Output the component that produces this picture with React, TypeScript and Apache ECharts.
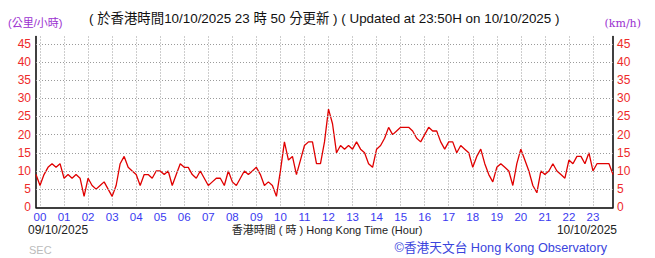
import React, { useEffect, useRef } from "react";
import * as echarts from "echarts";

// 10-minute mean wind speed (km/h), 09/10/2025 23:50 -> 10/10/2025 23:50
const speedPart1 = [9, 6, 9, 11, 12, 11, 12, 8, 9, 8, 9, 8, 3, 8, 6, 5, 6, 7, 5, 3, 6, 12, 14, 11, 10, 9, 6, 9, 9, 8, 10, 10, 9, 10, 6, 9, 12, 11, 11, 9, 8, 10, 8, 6, 7, 8, 8];
const speedPart2 = [6, 10, 7, 6, 8, 10, 9, 10, 11, 9, 6, 7, 6, 3, 10, 18, 13, 14, 9, 13, 17, 18, 18, 12, 12, 18, 27, 23, 15, 17, 16, 17, 16, 18, 16, 15, 12, 11, 16, 17, 19, 22, 20, 21, 22, 22, 22, 21, 19, 18];
const speedPart3 = [20, 22, 21, 21, 18, 16, 18, 18, 15, 17, 16, 15, 11, 14, 16, 12, 9, 7, 11, 12, 11, 10, 6, 12, 16, 13, 10, 6, 4, 10, 9, 10, 12, 10, 9, 8, 13, 12, 14, 14, 12, 15, 10, 12, 12, 12, 12, 9];
const speeds = [...speedPart1, ...speedPart2, ...speedPart3];

const hourLabels = ["00", "01", "02", "03", "04", "05", "06", "07", "08", "09", "10", "11", "12", "13", "14", "15", "16", "17", "18", "19", "20", "21", "22", "23"];
const minuteMarks = ["00", "10", "20", "30", "40", "50"];
const categories: string[] = ["23:50"];
hourLabels.forEach((h) => minuteMarks.forEach((m) => categories.push(h + ":" + m)));

const yTicks = [5, 10, 15, 20, 25, 30, 35, 40, 45];

const RED = "#ee2a2a";
const BLUE = "#3a3af0";
const PURPLE = "#9b30d0";
const GRID = "#9a9a9a";
const FONT = "'Liberation Sans', 'Noto Sans CJK TC', sans-serif";

export default function App() {
  const ref = useRef<HTMLDivElement>(null);
  useEffect(() => {
    if (!ref.current) return;
    const chart = echarts.init(ref.current, null, { renderer: "svg" });
    const isHour = (i: number) => i >= 1 && (i - 1) % 6 === 0;
    const yAxisBase = {
      type: "value",
      min: 0,
      max: 47,
      interval: 5,
      axisLine: { show: true, lineStyle: { color: "#000", width: 1.5 } },
      axisTick: { show: false },
      splitLine: { show: false },
      axisLabel: {
        color: RED,
        fontSize: 12,
        fontFamily: "'Liberation Sans Narrow', 'Liberation Sans', sans-serif",
        showMaxLabel: false,
      },
    };
    chart.setOption({
      animation: false,
      textStyle: { fontFamily: FONT },
      grid: { left: 36, right: 42, top: 36.5, bottom: 50.7, containLabel: false },
      xAxis: {
        type: "category",
        data: categories,
        boundaryGap: false,
        axisLine: { lineStyle: { color: "#000", width: 1.5 } },
        axisTick: { show: false },
        axisLabel: {
          interval: (i: number) => isHour(i),
          formatter: (v: string) => v.slice(0, 2),
          color: BLUE,
          fontSize: 11.5,
          fontFamily: FONT,
          margin: 4,
        },
        splitLine: {
          show: true,
          interval: (i: number) => isHour(i),
          lineStyle: { color: GRID, type: [1, 2], width: 1 },
        },
      },
      yAxis: [
        { ...yAxisBase, position: "left", axisLabel: { ...yAxisBase.axisLabel, margin: 5 } },
        { ...yAxisBase, position: "right", axisLabel: { ...yAxisBase.axisLabel, margin: 4 } },
      ],
      series: [
        {
          type: "line",
          data: [],
          z: 1,
          silent: true,
          markLine: {
            silent: true,
            symbol: ["none", "none"],
            label: { show: false },
            lineStyle: { color: GRID, type: [1, 2], width: 1 },
            data: yTicks.map((v) => ({ yAxis: v })),
          },
        },
        {
          type: "line",
          data: speeds,
          z: 3,
          showSymbol: false,
          lineStyle: { color: "#e00000", width: 1.3 },
        },
      ],
      graphic: [
        {
          type: "text",
          style: { text: "(公里/小時)", x: 8, y: 23, fill: PURPLE, font: "11px " + FONT, textVerticalAlign: "middle", verticalAlign: "middle" },
        },
        {
          type: "text",
          style: {
            text: "( 於香港時間10/10/2025 23 時 50 分更新 ) ( Updated at 23:50H on 10/10/2025 )",
            x: 89,
            y: 18,
            fill: "#111",
            font: "13.4px " + FONT,
            textVerticalAlign: "middle",
            verticalAlign: "middle",
          },
        },
        {
          type: "text",
          style: { text: "(km/h)", x: 641, y: 23, fill: PURPLE, font: "11px 'DejaVu Serif', serif", textAlign: "right", align: "right", textVerticalAlign: "middle", verticalAlign: "middle" },
        },
        {
          type: "text",
          style: { text: "09/10/2025", x: 28, y: 230, fill: "#222", font: "12px " + FONT, textVerticalAlign: "middle", verticalAlign: "middle" },
        },
        {
          type: "text",
          style: { text: "香港時間 ( 時 ) Hong Kong Time (Hour)", x: 327, y: 230, fill: "#222", font: "11px " + FONT, textAlign: "center", align: "center", textVerticalAlign: "middle", verticalAlign: "middle" },
        },
        {
          type: "text",
          style: { text: "10/10/2025", x: 617, y: 230, fill: "#222", font: "12px " + FONT, textAlign: "right", align: "right", textVerticalAlign: "middle", verticalAlign: "middle" },
        },
        {
          type: "text",
          style: { text: "SEC", x: 29, y: 250, fill: "#bbbbbb", font: "11px " + FONT, textVerticalAlign: "middle", verticalAlign: "middle" },
        },
        {
          type: "text",
          style: { text: "©香港天文台 Hong Kong Observatory", x: 607, y: 248, fill: "#3a44dd", font: "12.7px " + FONT, textAlign: "right", align: "right", textVerticalAlign: "middle", verticalAlign: "middle" },
        },
      ],
    });
    return () => chart.dispose();
  }, []);
  return <div ref={ref} style={{ position: "absolute", left: 0, top: 0, width: 655, height: 258 }} />;
}
